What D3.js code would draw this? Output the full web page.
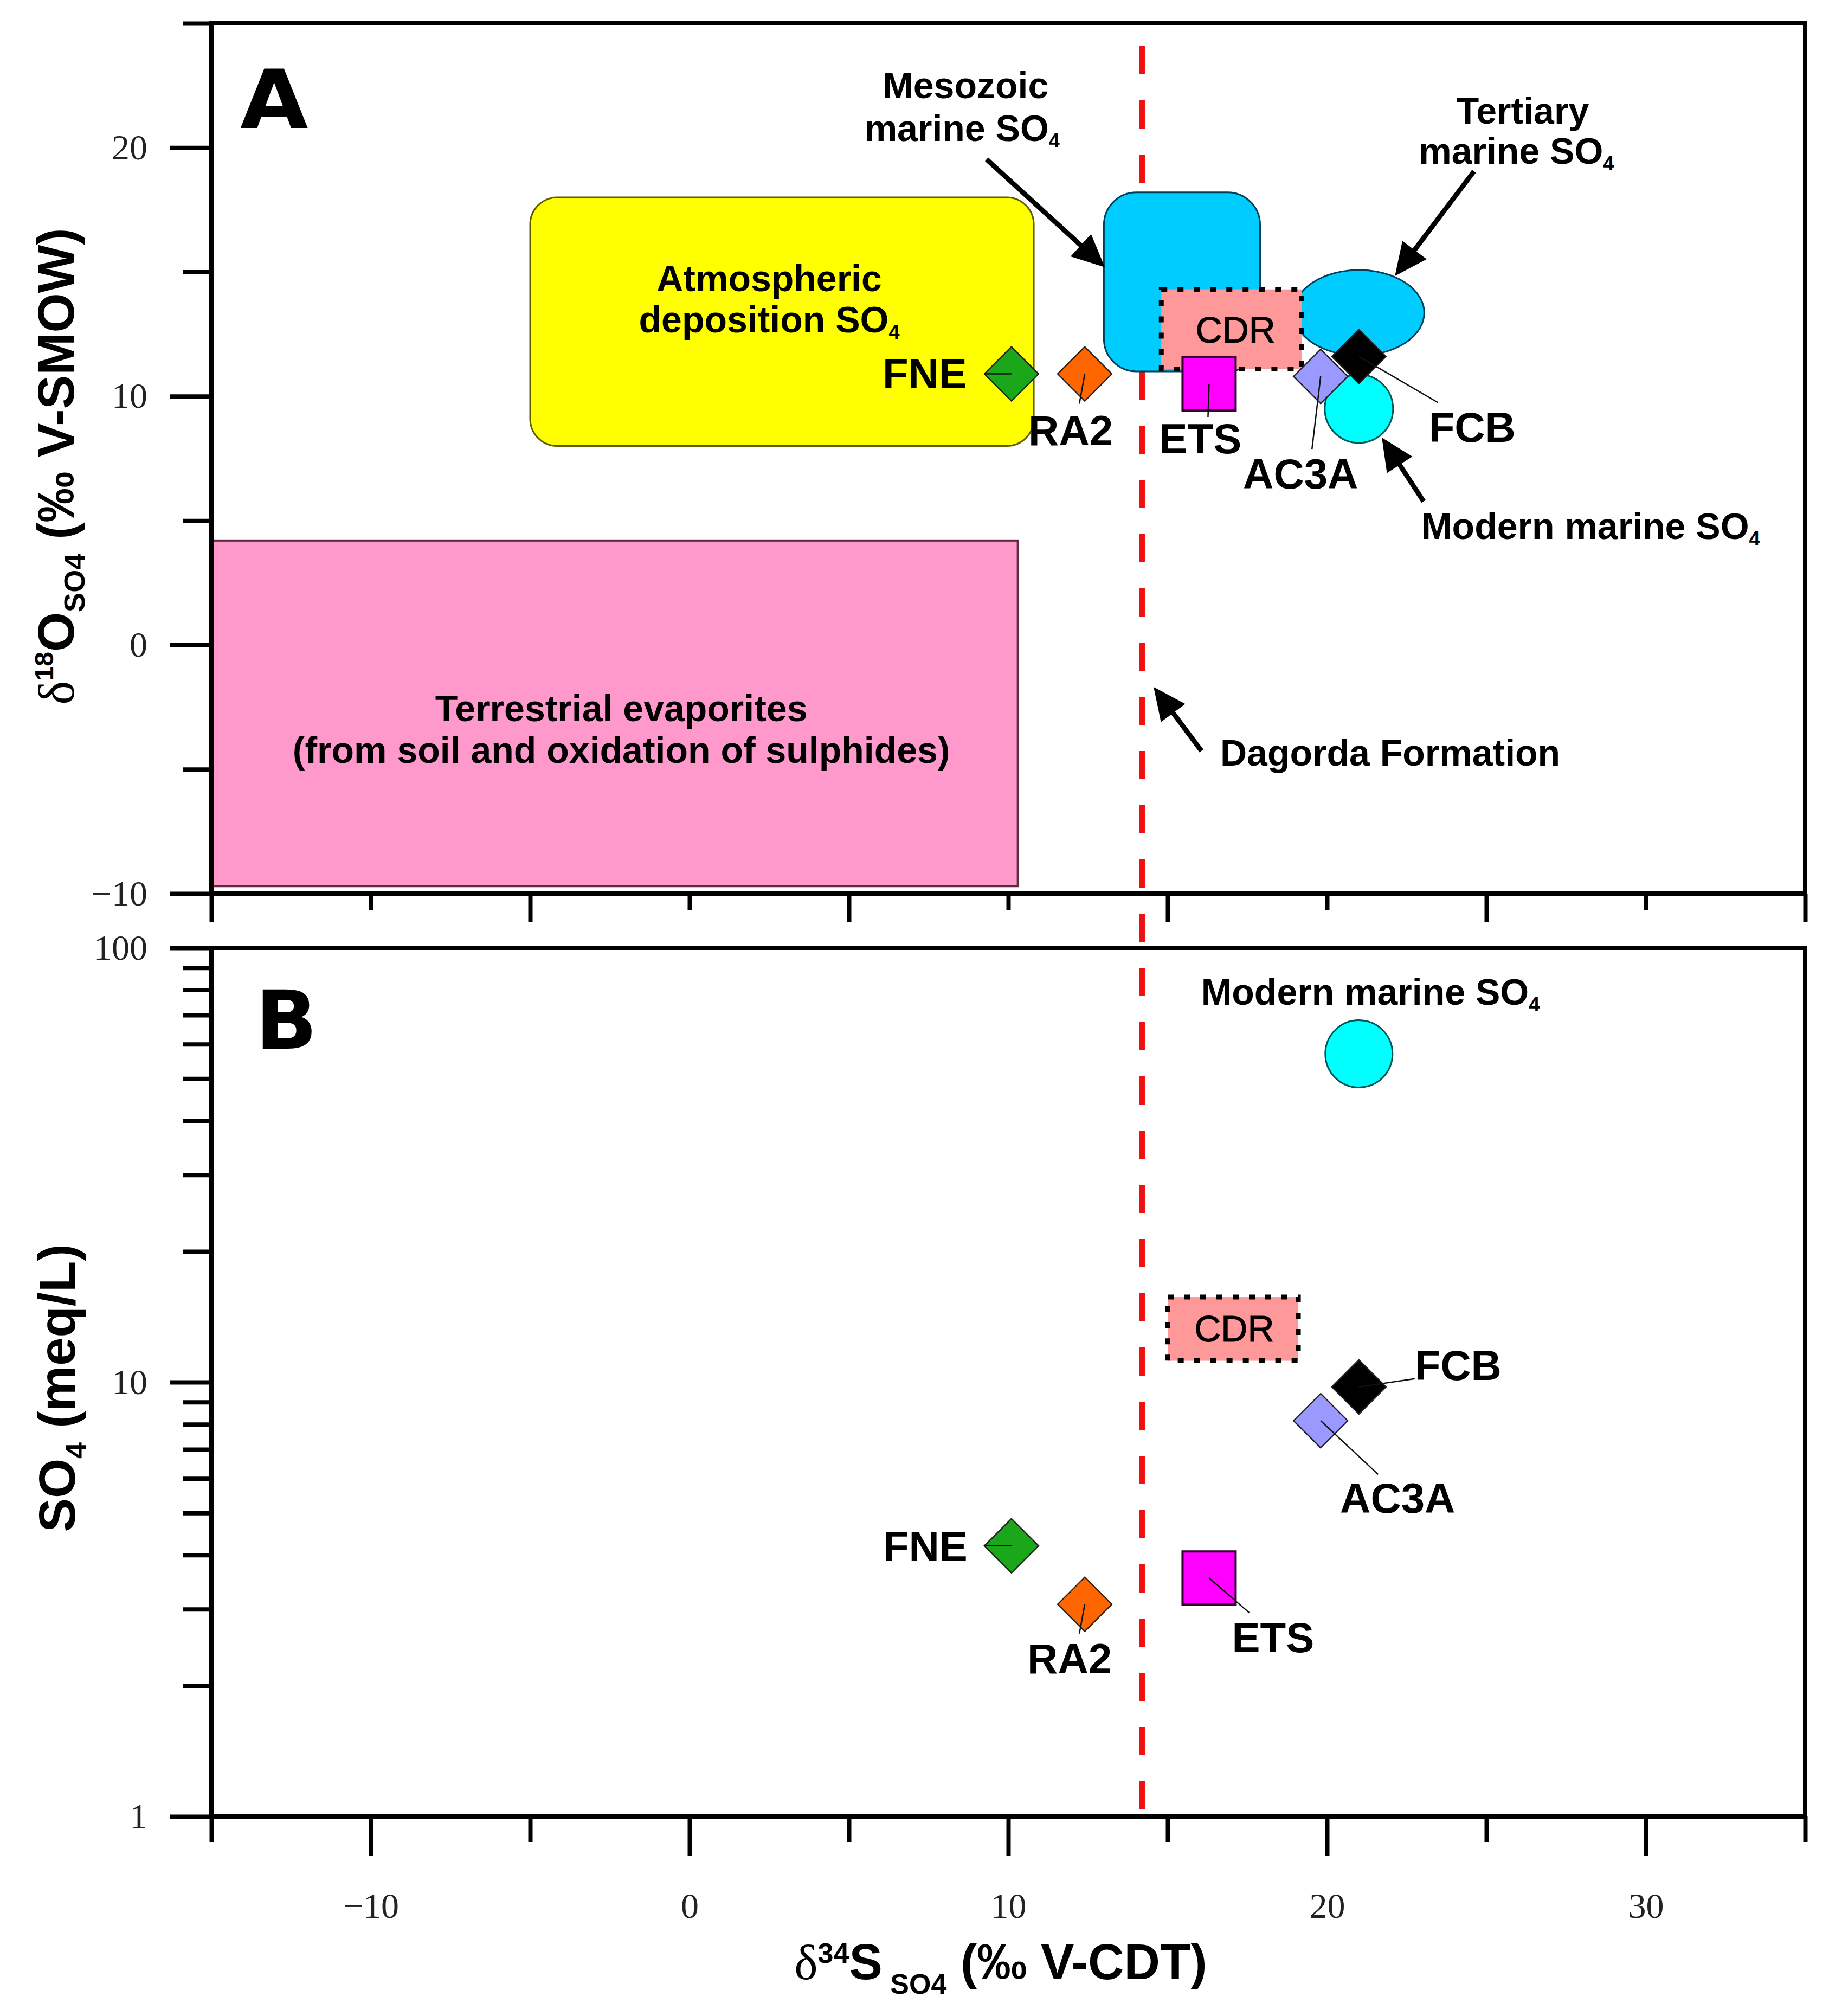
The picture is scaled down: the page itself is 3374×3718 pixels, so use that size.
<!DOCTYPE html>
<html>
<head>
<meta charset="utf-8">
<script src="https://cdn.jsdelivr.net/npm/d3@7"></script>
<style>
  html, body { margin: 0; padding: 0; background: #fff; }
  svg { display: block; }
</style>
</head>
<body>
<svg id="chart"></svg>
<script>
// samples
const samples = ["FNE", "RA2", "ETS", "AC3A", "FCB"];
const d34S = [10.1, 12.4, 16.3, 19.8, 21.0];
const d18O = [10.9, 10.9, 10.5, 10.8, 11.6];
const so4 = [4.2, 3.08, 3.54, 8.15, 9.75];
const sampleColors = ["#1aa81a", "#ff6600", "#ff00ff", "#9999ff", "#000000"];
const sampleShapes = ["diamond", "diamond", "square", "diamond", "diamond"];

// modern marine sulphate
const marineD34S = 21.0;
const marineD18O = 9.5;
const marineSO4 = 57;

// CDR range
const cdrD34S_A = [14.8, 19.2];
const cdrD18O = [11.1, 14.3];
const cdrD34S_B = [15.0, 19.1];
const cdrSO4 = [11.2, 15.7];

// source fields (panel A)
const terrestrialD34S = [-15, 10.3];
const terrestrialD18O = [-9.7, 4.2];
const atmosD34S = [-5, 10.8];
const atmosD18O = [8, 18];
const mesozoicD34S = [13, 17.9];
const mesozoicD18O = [11, 18.2];
const tertiaryD34S = [18.95, 23.05];
const tertiaryD18O = [11.64, 15.08];

// Dagorda Formation value
const dagordaD34S = 14.2;

// ticks
const xMajor = [-10, 0, 10, 20, 30];
const xMinor = [-15, -5, 5, 15, 25, 35];
const yMajorA = [-10, 0, 10, 20];
const yMinorA = [-5, 5, 15, 25];
const yMajorB = [1, 10, 100];
const yMinorB = [2, 3, 4, 5, 6, 7, 8, 9, 20, 30, 40, 50, 60, 70, 80, 90];

const W = 3374, H = 3718;
const SANS = "'Liberation Sans', Arial, sans-serif";
const SERIF = "'Liberation Serif', 'Times New Roman', serif";

const svg = d3.select("#chart").attr("width", W).attr("height", H);

const x = d3.scaleLinear().domain([-15, 35]).range([390, 3330]);
const yA = d3.scaleLinear().domain([-10, 25]).range([1648, 43]);
const yB = d3.scaleLog().domain([1, 100]).range([3350, 1748]);

// label / leader offsets in px from marker centre
const labelA = {
  FNE:  { dx: -160, dy: -2,  lx: -50, ly: 0 },
  RA2:  { dx: -26,  dy: 103, lx: -10, ly: 55 },
  ETS:  { dx: -16,  dy: 100, lx: -2,  ly: 61 },
  AC3A: { dx: -37,  dy: 179, lx: -16, ly: 134 },
  FCB:  { dx: 209,  dy: 130, lx: 146, ly: 85 }
};
const labelB = {
  FNE:  { dx: -159, dy: 0,   lx: -50, ly: 0 },
  RA2:  { dx: -28,  dy: 99,  lx: -10, ly: 54 },
  ETS:  { dx: 118,  dy: 109, lx: 74,  ly: 64 },
  AC3A: { dx: 142,  dy: 142, lx: 106, ly: 99 },
  FCB:  { dx: 183,  dy: -41, lx: 103, ly: -15 }
};

const points = samples.map((s, i) => ({
  name: s, s: d34S[i], o: d18O[i], c: so4[i], color: sampleColors[i], shape: sampleShapes[i]
}));

function styleAxis(g) {
  g.select(".domain").remove();
  g.selectAll(".tick line").attr("stroke", "#000").attr("stroke-width", 8);
  g.selectAll(".tick text")
    .attr("font-family", SERIF)
    .attr("font-size", 66)
    .attr("fill", "#222");
}

function addAxis(axis, tx, ty) {
  svg.append("g")
    .attr("transform", `translate(${tx},${ty})`)
    .call(axis)
    .call(styleAxis);
}

// ---- dashed Dagorda line (behind the fields) ----
svg.append("line")
  .attr("x1", x(dagordaD34S)).attr("x2", x(dagordaD34S))
  .attr("y1", yA(25)).attr("y2", yB(1))
  .attr("stroke", "#f01010")
  .attr("stroke-width", 10)
  .attr("stroke-dasharray", "52 48")
  .attr("stroke-dashoffset", 58);

// ---- panel A fields ----
const gA = svg.append("g");

function fieldRect(xs, ys, r, fill, stroke, sw) {
  return gA.append("rect")
    .attr("x", x(xs[0])).attr("y", yA(ys[1]))
    .attr("width", x(xs[1]) - x(xs[0]))
    .attr("height", yA(ys[0]) - yA(ys[1]))
    .attr("rx", r).attr("ry", r)
    .attr("fill", fill).attr("stroke", stroke).attr("stroke-width", sw);
}

fieldRect(terrestrialD34S, terrestrialD18O, 0, "#ff99cc", "#5c2a40", 4);
fieldRect(atmosD34S, atmosD18O, 50, "#ffff00", "#5e5e00", 3);
fieldRect(mesozoicD34S, mesozoicD18O, 60, "#00ccff", "#00405a", 3);

gA.append("ellipse")
  .attr("cx", x((tertiaryD34S[0] + tertiaryD34S[1]) / 2))
  .attr("cy", yA((tertiaryD18O[0] + tertiaryD18O[1]) / 2))
  .attr("rx", (x(tertiaryD34S[1]) - x(tertiaryD34S[0])) / 2)
  .attr("ry", (yA(tertiaryD18O[0]) - yA(tertiaryD18O[1])) / 2)
  .attr("fill", "#00ccff").attr("stroke", "#00405a").attr("stroke-width", 3);

function cdrBox(g, xs, y0, y1, cx, cy) {
  g.append("rect")
    .attr("x", x(xs[0])).attr("y", y1)
    .attr("width", x(xs[1]) - x(xs[0]))
    .attr("height", y0 - y1)
    .attr("fill", "#ff9999")
    .attr("stroke", "#000").attr("stroke-width", 9)
    .attr("stroke-dasharray", "11 19");
  g.append("text")
    .attr("x", cx).attr("y", cy + 24)
    .attr("text-anchor", "middle")
    .attr("font-family", SANS).attr("font-size", 68)
    .attr("stroke", "#000").attr("stroke-width", 1)
    .text("CDR");
}
cdrBox(gA, cdrD34S_A, yA(cdrD18O[0]), yA(cdrD18O[1]), x(17.13), yA(12.68));

// modern marine circle
gA.append("circle")
  .attr("cx", x(marineD34S)).attr("cy", yA(marineD18O)).attr("r", 63)
  .attr("fill", "#00ffff").attr("stroke", "#005555").attr("stroke-width", 3);

// ---- markers ----
function drawSamples(g, yScale, yKey, offsets) {
  const items = g.selectAll(".sample")
    .data(points)
    .enter().append("g")
    .classed("sample", true)
    .attr("transform", d => `translate(${x(d.s)},${yScale(d[yKey])})`);

  items.append("path")
    .attr("d", d => d.shape === "square"
      ? "M-49,-49H49V49H-49Z"
      : "M0,-50L50,0L0,50L-50,0Z")
    .attr("fill", d => d.color)
    .attr("stroke", d => d.shape === "square" ? "#330033" : "#222")
    .attr("stroke-width", d => d.shape === "square" ? 4 : 2.5);

  items.append("line")
    .attr("x1", 0).attr("y1", 0)
    .attr("x2", d => offsets[d.name].lx)
    .attr("y2", d => offsets[d.name].ly)
    .attr("stroke", "#111").attr("stroke-width", 2.5);

  items.append("text")
    .attr("x", d => offsets[d.name].dx)
    .attr("y", d => offsets[d.name].dy + 28)
    .attr("text-anchor", "middle")
    .attr("font-family", SANS).attr("font-weight", "bold").attr("font-size", 78)
    .text(d => d.name);
}
drawSamples(gA, yA, "o", labelA);

// ---- annotations, panel A (data units) ----
const arrowsA = [
  { from: [9.32, 19.53], to: [13.03, 15.19] },
  { from: [24.61, 19.05], to: [22.13, 14.84] },
  { from: [23.03, 5.77], to: [21.72, 8.34] },
  { from: [16.06, -4.26], to: [14.56, -1.69] }
];
const labelsA = [
  { x: 8.66, y: 22.51, text: "Mesozoic" },
  { x: 8.55, y: 20.79, text: "marine SO", sub: "4" },
  { x: 26.14, y: 21.49, text: "Tertiary" },
  { x: 25.94, y: 19.88, text: "marine SO", sub: "4" },
  { x: 28.27, y: 4.79, text: "Modern marine SO", sub: "4" },
  { x: 2.5, y: 14.75, text: "Atmospheric" },
  { x: 2.5, y: 13.09, text: "deposition SO", sub: "4" },
  { x: -2.14, y: -2.54, text: "Terrestrial evaporites" },
  { x: -2.14, y: -4.22, text: "(from soil and oxidation of sulphides)" }
];

function drawLabel(g, px, py, d, anchor) {
  const t = g.append("text")
    .attr("x", px).attr("y", py)
    .attr("text-anchor", anchor || "middle")
    .attr("font-family", SANS).attr("font-weight", "bold").attr("font-size", 68)
    .text(d.text);
  if (d.sub) {
    t.append("tspan").attr("font-size", 36).attr("dy", 12).text(d.sub);
  }
}

labelsA.forEach(d => drawLabel(gA, x(d.x), yA(d.y) + 24, d));
drawLabel(gA, x(16.65), yA(-4.85), { text: "Dagorda Formation" }, "start");

function arrow(g, x1, y1, x2, y2) {
  const len = Math.hypot(x2 - x1, y2 - y1);
  const ux = (x2 - x1) / len, uy = (y2 - y1) / len;
  const hl = 60, hw = 28;
  const bx = x2 - ux * hl, by = y2 - uy * hl;
  g.append("line")
    .attr("x1", x1).attr("y1", y1).attr("x2", bx + ux * 4).attr("y2", by + uy * 4)
    .attr("stroke", "#000").attr("stroke-width", 9);
  g.append("path")
    .attr("d", `M${x2},${y2}L${bx - uy * hw},${by + ux * hw}L${bx + uy * hw},${by - ux * hw}Z`)
    .attr("fill", "#000");
}
arrowsA.forEach(a => arrow(gA, x(a.from[0]), yA(a.from[1]), x(a.to[0]), yA(a.to[1])));

// ---- panel B ----
const gB = svg.append("g");
cdrBox(gB, cdrD34S_B, yB(cdrSO4[0]), yB(cdrSO4[1]), x(17.09), yB(13.3));

gB.append("circle")
  .attr("cx", x(marineD34S)).attr("cy", yB(marineSO4)).attr("r", 62)
  .attr("fill", "#00ffff").attr("stroke", "#005555").attr("stroke-width", 3);
drawLabel(gB, x(21.36), yB(79.3) + 24, { text: "Modern marine SO", sub: "4" });

drawSamples(gB, yB, "c", labelB);

// ---- frames ----
[[yA(25), yA(-10)], [yB(100), yB(1)]].forEach(([t, b]) => {
  svg.append("rect")
    .attr("x", x(-15)).attr("y", t)
    .attr("width", x(35) - x(-15)).attr("height", b - t)
    .attr("fill", "none").attr("stroke", "#000").attr("stroke-width", 8);
});

// ---- axes ----
// panel A bottom (no labels)
addAxis(d3.axisBottom(x).tickValues(xMajor).tickSize(30).tickFormat(""), 0, yA(-10));
addAxis(d3.axisBottom(x).tickValues(xMinor).tickSize(52).tickFormat(""), 0, yA(-10));
// panel A left
addAxis(d3.axisLeft(yA).tickValues(yMajorA).tickSize(76).tickPadding(42).tickFormat(d3.format("d")), x(-15), 0);
addAxis(d3.axisLeft(yA).tickValues(yMinorA).tickSize(52).tickFormat(""), x(-15), 0);
// panel B bottom
addAxis(d3.axisBottom(x).tickValues(xMajor).tickSize(72).tickPadding(68).tickFormat(d3.format("d")), 0, yB(1));
addAxis(d3.axisBottom(x).tickValues(xMinor).tickSize(47).tickFormat(""), 0, yB(1));
// panel B left (log)
addAxis(d3.axisLeft(yB).tickValues(yMajorB).tickSize(76).tickPadding(42).tickFormat(d3.format("d")), x(-15), 0);
addAxis(d3.axisLeft(yB).tickValues(yMinorB).tickSize(53).tickFormat(""), x(-15), 0);

// ---- panel letters ----
svg.append("text").attr("x", 443).attr("y", 236)
  .attr("font-family", "'DejaVu Sans', sans-serif").attr("font-weight", "bold").attr("font-size", 150)
  .attr("transform", "translate(443,0) scale(1.08,1) translate(-443,0)")
  .text("A");
svg.append("text").attr("x", 471).attr("y", 1934)
  .attr("font-family", "'DejaVu Sans', sans-serif").attr("font-weight", "bold").attr("font-size", 150)
  .text("B");

// ---- axis titles ----
function titleParts(t, parts) {
  parts.forEach(p => {
    t.append("tspan")
      .attr("font-family", p.serif ? SERIF : SANS)
      .attr("font-weight", p.serif ? "normal" : "bold")
      .attr("font-size", p.size)
      .attr("dy", p.dy || 0)
      .text(p.text);
  });
}

const yTitleA = svg.append("text")
  .attr("transform", "translate(136,860) rotate(-90)")
  .attr("text-anchor", "middle");
titleParts(yTitleA, [
  { text: "\u03b4", serif: true, size: 94 },
  { text: "18", size: 48, dy: -38 },
  { text: "O", size: 94, dy: 38 },
  { text: "SO4", size: 54, dy: 20 },
  { text: " (\u2030 V-SMOW)", size: 94, dy: -20 }
]);

const yTitleB = svg.append("text")
  .attr("transform", "translate(138,2560) rotate(-90)")
  .attr("text-anchor", "middle");
titleParts(yTitleB, [
  { text: "SO", size: 94 },
  { text: "4", size: 54, dy: 20 },
  { text: " (meq/L)", size: 94, dy: -20 }
]);

const xTitle = svg.append("text")
  .attr("x", 1846).attr("y", 3650)
  .attr("text-anchor", "middle");
titleParts(xTitle, [
  { text: "\u03b4", serif: true, size: 92 },
  { text: "34", size: 52, dy: -30 },
  { text: "S", size: 92, dy: 30 },
  { text: " SO4", size: 52, dy: 27 },
  { text: " (\u2030 V-CDT)", size: 92, dy: -27 }
]);
</script>
</body>
</html>
